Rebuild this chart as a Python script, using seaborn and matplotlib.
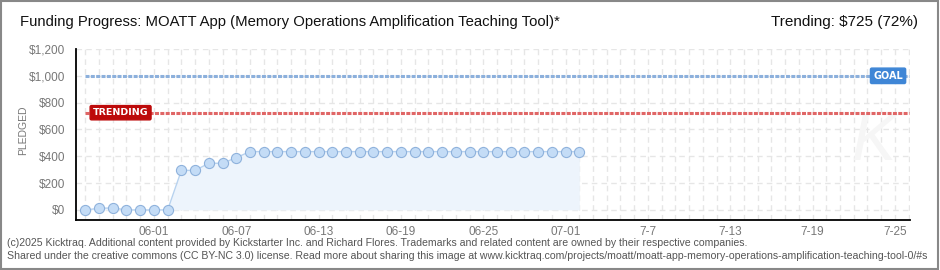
import matplotlib
matplotlib.use("Agg")
import matplotlib.pyplot as plt
import matplotlib.dates as mdates
from matplotlib.patches import Rectangle
import seaborn as sns
import pandas as pd

# ---- data ----
start_date = "2025-05-27"
end_date = "2025-07-02"
axis_end_date = "2025-07-26"
pledged = [0, 12, 15, 0, 0, 0, 0, 295, 295, 348, 348, 390,
           435, 435, 435, 435, 435, 435, 435, 435, 435, 435, 435, 435, 435,
           435, 435, 435, 435, 435, 435, 435, 435, 435, 435, 435, 435]
goal = 1000
trending = 725
trending_pct = 72
label_dates = ["2025-06-01", "2025-06-07", "2025-06-13", "2025-06-19", "2025-06-25",
               "2025-07-01", "2025-07-07", "2025-07-13", "2025-07-19", "2025-07-25"]
label_texts = ["06-01", "06-07", "06-13", "06-19", "06-25", "07-01", "7-7", "7-13", "7-19", "7-25"]
y_ticks = [0, 200, 400, 600, 800, 1000, 1200]
y_labels = ["$0", "$200", "$400", "$600", "$800", "$1,000", "$1,200"]
title = "Funding Progress: MOATT App (Memory Operations Amplification Teaching Tool)*"
footer1 = ("(c)2025 Kicktraq. Additional content provided by Kickstarter Inc. and Richard Flores. "
           "Trademarks and related content are owned by their respective companies.")
footer2 = ("Shared under the creative commons (CC BY-NC 3.0) license. Read more about sharing this image at "
           "www.kicktraq.com/projects/moatt/moatt-app-memory-operations-amplification-teaching-tool-0/#s")

dates = pd.date_range(start_date, end_date)
df = pd.DataFrame({"date": dates, "pledged": pledged})
all_days = pd.date_range(start_date, axis_end_date)

sns.set_theme(style="white")
FONT = ["Liberation Sans", "DejaVu Sans"]
plt.rcParams["font.family"] = FONT

fig = plt.figure(figsize=(9.4, 2.7), dpi=100)
ax = fig.add_axes([76/940, 50/270, (910-76)/940, (220-49)/270])

x0 = mdates.date2num(pd.Timestamp(start_date))
x_end = mdates.date2num(pd.Timestamp(axis_end_date))
ax.set_xlim(x0 - 0.68, x_end + 0.1)
ax.set_ylim(-75, 1200)

# grid
for d in all_days:
    ax.axvline(d, color="#e6e6e6", lw=1, ls=(0, (4, 3)), zorder=0)
for yv in y_ticks:
    ax.axhline(yv, color="#e6e6e6", lw=1, ls=(0, (4, 3)), zorder=0)

# area + line
ax.fill_between(df["date"], 0, df["pledged"], color="#edf4fc", lw=0, zorder=1)
sns.lineplot(data=df, x="date", y="pledged", ax=ax, color="#b7d2ef", lw=1.0,
             marker="o", markersize=7.3, markerfacecolor="#c4dcf6",
             markeredgecolor="#8fb2dc", markeredgewidth=0.8, zorder=3)

# goal / trending lines
ax.hlines(goal, x0, x_end, color="#8cb0dc", lw=2.2, ls=(0, (1.3, 0.45)), zorder=2)
ax.hlines(trending, x0, x_end, color="#e06666", lw=2.2, ls=(0, (1.3, 0.45)), zorder=2)
ax.text(x0 + 2.57, trending, "TRENDING", color="white", fontsize=6.8, fontweight="bold",
        ha="center", va="center", family=["DejaVu Sans"], zorder=5,
        bbox=dict(boxstyle="round,pad=0.28,rounding_size=0.15", fc="#bd0a0a", ec="#bd0a0a"))
ax.text(x0 + 58.5, goal, "GOAL", color="white", fontsize=7, fontweight="bold",
        ha="center", va="center", family=["DejaVu Sans"], zorder=5,
        bbox=dict(boxstyle="round,pad=0.28,rounding_size=0.15", fc="#3f86d6", ec="#3f86d6"))

# watermark
ax.text(x0 + 57.5, 500, "K", color="#f6f6f6", fontsize=48, style="italic",
        ha="center", va="center", zorder=0)

# axes styling
for s in ["top", "right"]:
    ax.spines[s].set_visible(False)
ax.spines["left"].set_color("black")
ax.spines["left"].set_linewidth(1.3)
ax.spines["bottom"].set_color("black")
ax.spines["bottom"].set_linewidth(1.3)

ax.set_yticks(y_ticks)
ax.set_yticklabels(y_labels)
ax.set_yticks([100, 300, 500, 700, 900, 1100], minor=True)
ax.tick_params(axis="y", which="major", direction="out", length=6, width=1.3, color="black",
               labelsize=8.5, labelcolor="#777777", pad=2)
ax.tick_params(axis="y", which="minor", direction="out", length=3, width=1.2, color="#dd0000")

ax.set_xticks(all_days)
lab_set = dict(zip(pd.to_datetime(label_dates), label_texts))
ax.set_xticklabels([lab_set.get(d, "") for d in all_days])
ax.tick_params(axis="x", which="major", direction="inout", length=7, width=1.2, color="black",
               labelsize=8.5, labelcolor="#777777", pad=1)
ax.set_xlabel("")
ax.set_ylabel("PLEDGED", fontsize=7.5, color="#777777")
ax.yaxis.set_label_coords(-48/834, 0.526)

# titles
fig.text(20/940, 1 - 22/270, title, fontsize=10.7, color="#111111", ha="left", va="center")
fig.text(918/940, 1 - 22/270, f"Trending: ${trending} ({trending_pct}%)", fontsize=11,
         color="#111111", ha="right", va="center")

# footer
fig.text(7/940, 1 - 243/270, footer1, fontsize=7.6, color="#555555", ha="left", va="center")
fig.text(7/940, 1 - 256/270, footer2, fontsize=7.6, color="#555555", ha="left", va="center")

# border
fig.patches.append(Rectangle((0.001, 0.002), 0.997, 0.995, transform=fig.transFigure,
                             fill=False, ec="#888888", lw=1.5))

fig.savefig("out.png", dpi=100)
